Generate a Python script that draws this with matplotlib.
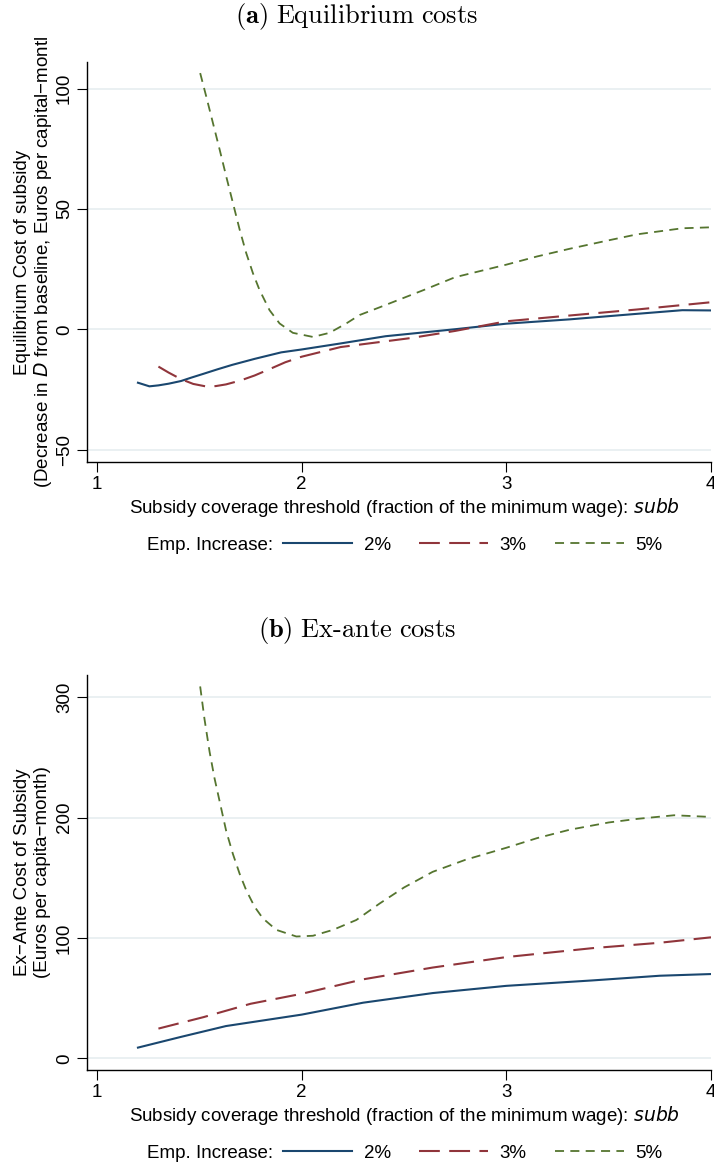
import numpy as np
import matplotlib
matplotlib.use("Agg")
import matplotlib.pyplot as plt
from matplotlib.lines import Line2D

plt.rcParams["font.family"] = ["Liberation Sans", "DejaVu Sans"]
plt.rcParams["mathtext.fontset"] = "cm"

# (a) Equilibrium costs
eq_x_2 = [1.20, 1.256, 1.30, 1.35, 1.41, 1.46, 1.52, 1.59, 1.66, 1.77,
          1.90, 2.0, 2.19, 2.41, 2.75, 3.0, 3.31, 3.64, 3.86, 4.0]
eq_y_2 = [-22.1, -23.6, -23.2, -22.5, -21.4, -20.0, -18.4, -16.5, -14.7,
          -12.2, -9.5, -8.3, -5.8, -2.8, 0.1, 2.4, 4.2, 6.5, 8.0, 7.9]
eq_x_3 = [1.30, 1.35, 1.41, 1.47, 1.53, 1.58, 1.63, 1.70, 1.77, 1.85,
          1.92, 2.0, 2.19, 2.53, 2.75, 3.0, 3.31, 3.64, 4.0]
eq_y_3 = [-15.4, -17.9, -20.6, -22.6, -23.6, -23.5, -22.8, -21.2, -19.1,
          -16.2, -13.6, -11.3, -7.3, -3.6, -0.6, 3.4, 5.8, 8.3, 11.3]
eq_x_5 = [1.504, 1.533, 1.566, 1.599, 1.631, 1.664, 1.697, 1.729, 1.762,
          1.794, 1.843, 1.892, 1.957, 2.055, 2.136, 2.218, 2.283, 2.381,
          2.6, 2.75, 3.0, 3.15, 3.31, 3.5, 3.64, 3.86, 4.0]
eq_y_5 = [106.4, 96.9, 85.8, 74.7, 63.6, 52.5, 41.4, 31.7, 23.3,
          16.4, 8.0, 2.5, -1.4, -3.1, -1.4, 2.5, 6.0, 9.2,
          16.5, 21.7, 26.9, 30.3, 33.5, 37.0, 39.5, 42.0, 42.4]

# (b) Ex-ante costs
ea_x_2 = [1.20, 1.41, 1.63, 2.0, 2.30, 2.64, 3.0, 3.42, 3.75, 4.0]
ea_y_2 = [9.0, 17.9, 26.9, 36.4, 46.3, 54.3, 60.3, 64.8, 68.7, 70.1]
ea_x_3 = [1.30, 1.52, 1.75, 2.0, 2.30, 2.64, 3.0, 3.42, 3.75, 4.0]
ea_y_3 = [24.8, 34.3, 45.4, 53.7, 65.7, 75.5, 84.2, 91.6, 96.1, 100.6]
ea_x_5 = [1.504, 1.525, 1.550, 1.574, 1.599, 1.631, 1.664, 1.697, 1.729,
          1.770, 1.810, 1.876, 1.974, 2.055, 2.153, 2.267, 2.381, 2.5,
          2.64, 2.8, 3.0, 3.15, 3.31, 3.5, 3.64, 3.82, 4.0]
ea_y_5 = [309.0, 282, 254.7, 232.8, 213.6, 189.0, 169.8, 153.3, 139.7,
          126.0, 116.4, 106.8, 101.3, 101.9, 106.8, 115.0, 128.7, 142,
          155, 165, 175, 183, 190, 196, 199, 202, 200.6]

series_labels = ["2%", "3%", "5%"]
x_ticks = [1, 2, 3, 4]

BLUE = "#1a476f"
RED = "#90353b"
GREEN = "#55752f"
styles = [dict(color=BLUE, lw=1.5, ls="-"),
          dict(color=RED, lw=1.5, ls=(0, (10, 4.5))),
          dict(color=GREEN, lw=1.3, ls=(0, (5, 3.5)))]

W, H = 714, 1170
FS = 13.5
fig = plt.figure(figsize=(W / 100, H / 100), dpi=100)


def panel(top_px, bot_px, xs, ys, ylim, yticks, title, title_y,
          label_lines):
    ax = fig.add_axes([87 / W, 1 - bot_px / H, (711 - 87) / W,
                       (bot_px - top_px) / H])
    for x, y, st in zip(xs, ys, styles):
        ax.plot(x, y, **st)
    ax.set_xlim(0.951, 4.0)
    ax.set_ylim(*ylim)
    ax.set_xticks(x_ticks)
    ax.set_yticks(yticks)
    ax.set_yticklabels([str(t).replace("-", "\u2212") for t in yticks],
                       rotation=90, va="center")
    ax.grid(axis="y", color="#e6eef0", lw=1.2)
    ax.set_axisbelow(True)
    for s in ["top", "right"]:
        ax.spines[s].set_visible(False)
    ax.spines["left"].set_linewidth(1.0)
    ax.spines["bottom"].set_linewidth(1.0)
    ax.tick_params(direction="out", length=7, width=0.8, labelsize=FS,
                   pad=3)
    ax.set_xlabel("Subsidy coverage threshold (fraction of the minimum "
                  "wage): $\\mathit{subb}$", fontsize=FS, labelpad=2)
    ax.xaxis.label.set_math_fontfamily("dejavusans")
    ax.xaxis.label.set_x(0.5 + 5 / 624)
    # y label (two lines, centered on the axis)
    yc = 1 - (top_px + bot_px) / 2 / H
    for xpx, txt in label_lines:
        fig.text(xpx / W, yc, txt, rotation=90, ha="center", va="center",
                 fontsize=FS, math_fontfamily="dejavusans")
    fig.text(0.5, 1 - title_y / H, title, ha="center", va="center",
             fontsize=19)
    # legend
    ly = 1 - (bot_px + 83) / H
    fig.text(147 / W, ly, "Emp. Increase:", ha="left", va="center",
             fontsize=FS)
    handles = [Line2D([], [], **st) for st in styles]
    fig.legend(handles, series_labels, loc="center left",
               bbox_to_anchor=(283 / W, ly), ncol=3, frameon=False,
               fontsize=FS, handlelength=3.7, handletextpad=0.6,
               columnspacing=1.5, borderpad=0, borderaxespad=0)
    return ax


panel(62, 462, [eq_x_2, eq_x_3, eq_x_5], [eq_y_2, eq_y_3, eq_y_5],
      (-55, 111), [-50, 0, 50, 100],
      r"$\mathbf{(a)}\ \mathrm{Equilibrium\ costs}$", 16,
      [(23, "Equilibrium Cost of subsidy"),
       (43, "(Decrease in $\\mathit{D}$ from baseline, Euros per "
            "capital\u2212montl")])

panel(675, 1070, [ea_x_2, ea_x_3, ea_x_5], [ea_y_2, ea_y_3, ea_y_5],
      (-9.6, 318.5), [0, 100, 200, 300],
      r"$\mathbf{(b)}\ \mathrm{Ex\text{-}ante\ costs}$", 630,
      [(23, "Ex\u2212Ante Cost of Subsidy"),
       (43, "(Euros per capita\u2212month)")])

fig.savefig("out.png", dpi=100)
